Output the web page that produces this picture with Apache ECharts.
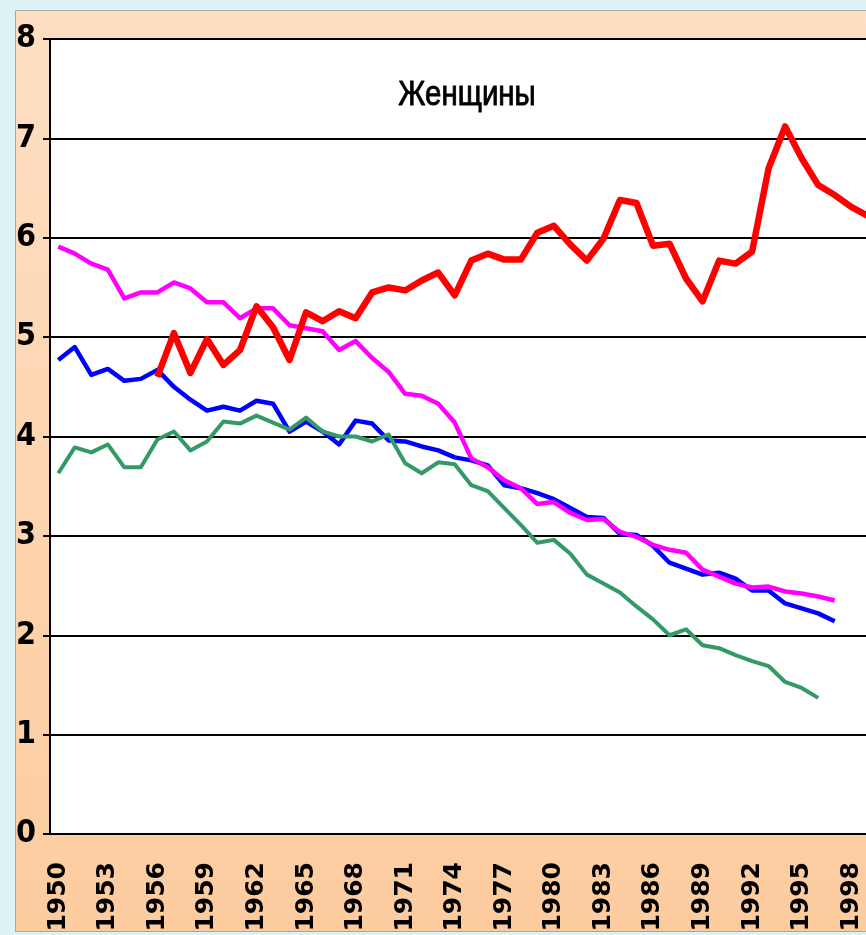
<!DOCTYPE html>
<html>
<head>
<meta charset="utf-8">
<title>Женщины</title>
<script src="https://cdn.jsdelivr.net/npm/echarts@6/dist/echarts.min.js"></script>
<style>
  html, body { margin: 0; padding: 0; overflow: hidden; background: #dcf2f5; }
  #chart { width: 900px; height: 935px; }
</style>
</head>
<body>
<div id="chart"></div>
<script>
// years on the x axis
var years = [];
for (var y = 1950; y <= 1999; y++) years.push(String(y));

// values (null = no point)
var redLine = [null, null, null, null, null, null,
  4.60, 5.04, 4.64, 4.98,
  4.72, 4.87, 5.31, 5.10, 4.77, 5.25, 5.16, 5.26, 5.19, 5.45,
  5.50, 5.47, 5.57, 5.65, 5.42, 5.77, 5.84, 5.78, 5.78, 6.05,
  6.12, 5.93, 5.77, 5.99, 6.38, 6.35, 5.92, 5.94, 5.59, 5.36,
  5.77, 5.74, 5.86, 6.70, 7.12, 6.80, 6.53, 6.43, 6.31, 6.22];

var magentaLine = [5.91, 5.84, 5.74, 5.68, 5.39, 5.45, 5.45, 5.55, 5.49, 5.35,
  5.35, 5.19, 5.29, 5.29, 5.12, 5.09, 5.06, 4.87, 4.96, 4.79,
  4.65, 4.43, 4.41, 4.33, 4.14, 3.78, 3.69, 3.56, 3.48, 3.32,
  3.34, 3.23, 3.16, 3.17, 3.04, 2.99, 2.91, 2.86, 2.83, 2.66,
  2.59, 2.52, 2.48, 2.49, 2.44, 2.42, 2.39, 2.35, null, null];

var blueLine = [4.77, 4.90, 4.62, 4.68, 4.56, 4.58, 4.67, 4.50, 4.37, 4.26,
  4.30, 4.26, 4.36, 4.33, 4.05, 4.15, 4.05, 3.92, 4.16, 4.13,
  3.96, 3.95, 3.90, 3.86, 3.79, 3.76, 3.71, 3.51, 3.48, 3.43,
  3.37, 3.28, 3.19, 3.18, 3.02, 3.01, 2.90, 2.73, 2.67, 2.61,
  2.63, 2.57, 2.45, 2.45, 2.32, 2.27, 2.22, 2.14, null, null];

var greenLine = [3.63, 3.89, 3.84, 3.92, 3.69, 3.69, 3.97, 4.05, 3.86, 3.95,
  4.15, 4.13, 4.21, 4.14, 4.07, 4.19, 4.05, 4.00, 4.00, 3.95,
  4.02, 3.73, 3.63, 3.74, 3.72, 3.51, 3.45, 3.28, 3.11, 2.93,
  2.96, 2.82, 2.61, 2.52, 2.43, 2.29, 2.16, 2.00, 2.06, 1.90,
  1.87, 1.80, 1.74, 1.69, 1.53, 1.47, 1.37, null, null, null];

var chart = echarts.init(document.getElementById('chart'));

function lineSeries(data, color, width) {
  return {
    type: 'line',
    data: data,
    symbol: 'none',
    connectNulls: false,
    lineStyle: { color: color, width: width, join: 'round' }
  };
}

var option = {
  animation: false,
  graphic: [
    {
      type: 'rect',
      z: -10,
      shape: { x: 15.5, y: 10.5, width: 900, height: 921 },
      style: {
        fill: new echarts.graphic.LinearGradient(0, 0, 0, 1, [
          { offset: 0, color: '#fedfc3' },
          { offset: 1, color: '#fccc9f' }
        ]),
        stroke: '#a6a6a6',
        lineWidth: 1
      }
    },
    {
      // narrowed Arial-like title
      type: 'text',
      z: 10,
      x: 467,
      y: 95,
      scaleX: 0.84,
      style: {
        text: 'Женщины',
        fill: '#000',
        font: '35px "Liberation Sans", Arial, sans-serif',
        textAlign: 'center',
        textVerticalAlign: 'middle',
        stroke: '#000',
        lineWidth: 0.9
      }
    }
  ],
  grid: {
    left: 50,
    top: 39,
    right: 24,
    bottom: 101,
    show: true,
    backgroundColor: '#ffffff',
    borderWidth: 0
  },
  xAxis: {
    type: 'category',
    data: years,
    boundaryGap: true,
    axisLine: { lineStyle: { color: '#000', width: 2 } },
    axisTick: { interval: 0, length: 11, lineStyle: { color: '#333', width: 1 } },
    axisLabel: {
      interval: 2,
      rotate: 90,
      margin: 28,
      color: '#000',
      fontFamily: 'DejaVu Sans',
      fontWeight: 'bold',
      fontSize: 25
    },
    splitLine: { show: false }
  },
  yAxis: {
    type: 'value',
    min: 0,
    max: 8,
    interval: 1,
    axisLine: { show: true, lineStyle: { color: '#000', width: 2 } },
    axisTick: { show: true, length: 7, lineStyle: { color: '#000', width: 2 } },
    axisLabel: {
      margin: 14,
      color: '#000',
      fontFamily: '"DejaVu Sans Condensed", sans-serif',
      fontWeight: 'bold',
      fontSize: 32
    },
    splitLine: { lineStyle: { color: '#000', width: 2 } }
  },
  series: [
    lineSeries(blueLine, '#0000ff', 4.5),
    lineSeries(greenLine, '#339966', 4),
    lineSeries(magentaLine, '#ff00ff', 4.5),
    lineSeries(redLine, '#ff0000', 6.5)
  ]
};

chart.setOption(option);
</script>
</body>
</html>
